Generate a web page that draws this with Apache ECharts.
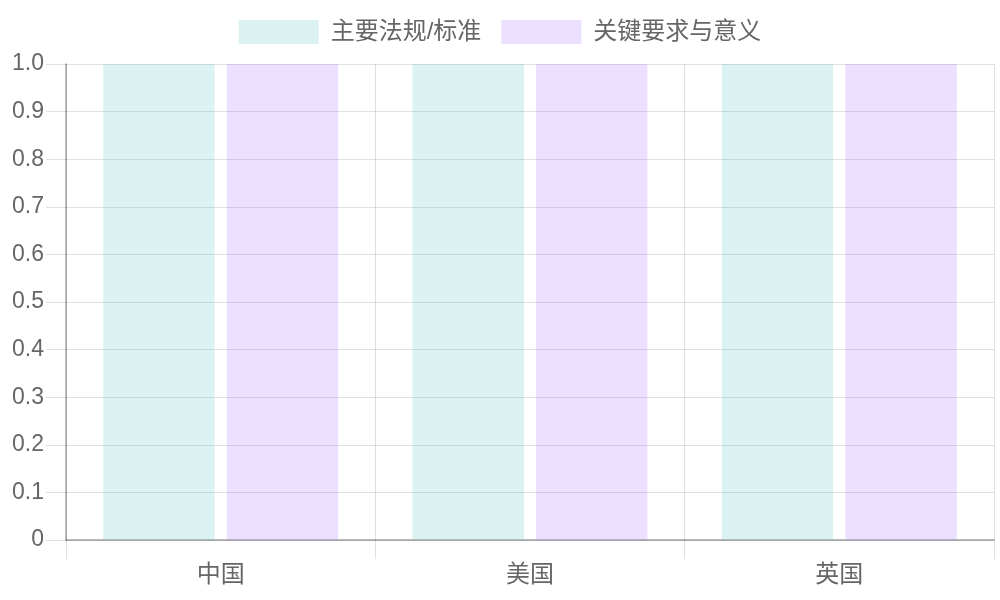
<!DOCTYPE html>
<html>
<head>
<meta charset="utf-8">
<script src="https://cdn.jsdelivr.net/npm/echarts@6/dist/echarts.min.js"></script>
<style>
html,body{margin:0;padding:0;background:#fff;}
#chart{width:1000px;height:600px;}
</style>
</head>
<body>
<div id="chart"></div>
<script>
var countries = ['中国', '美国', '英国'];
var seriesNames = ['主要法规/标准', '关键要求与意义'];
var lawValues = [1, 1, 1];
var meaningValues = [1, 1, 1];
var yTicks = ['0', '0.1', '0.2', '0.3', '0.4', '0.5', '0.6', '0.7', '0.8', '0.9', '1.0'];

var font = '"Liberation Sans", Arial, "Noto Sans CJK SC", sans-serif';
var gridColor = 'rgba(0,0,0,0.12)';
var axisColor = 'rgba(0,0,0,0.35)';

var myChart = echarts.init(document.getElementById('chart'));
var option = {
	animation: false,
	legend: {
		top: 15,
		left: 'center',
		itemWidth: 80,
		itemHeight: 24,
		itemGap: 20,
		icon: 'rect',
		textStyle: { fontSize: 24, color: '#666', fontFamily: font, padding: [0, 0, 0, 7] },
		data: seriesNames
	},
	grid: { left: 66, right: 6, top: 64, bottom: 60, containLabel: false },
	xAxis: {
		type: 'category',
		data: countries,
		boundaryGap: true,
		axisLine: { lineStyle: { color: axisColor, width: 1.5 } },
		axisTick: { show: true, length: 19, lineStyle: { color: gridColor } },
		axisLabel: { fontSize: 24, color: '#666', fontFamily: font, margin: 23 },
		splitLine: { show: true, lineStyle: { color: gridColor } }
	},
	yAxis: {
		type: 'value',
		min: 0,
		max: 1,
		interval: 0.1,
		axisLine: { show: true, lineStyle: { color: axisColor, width: 1.5 } },
		axisTick: { show: true, length: 20, lineStyle: { color: gridColor } },
		axisLabel: {
			fontSize: 23, color: '#666', fontFamily: font, margin: 22,
			formatter: function (v) { return yTicks[Math.round(v * 10)]; }
		},
		splitLine: { show: true, lineStyle: { color: gridColor } }
	},
	series: [
		{
			name: seriesNames[0],
			type: 'bar',
			data: lawValues,
			barWidth: '36%',
			barGap: '11%',
			itemStyle: { color: 'rgba(75,192,192,0.2)' }
		},
		{
			name: seriesNames[1],
			type: 'bar',
			data: meaningValues,
			barWidth: '36%',
			barGap: '11%',
			itemStyle: { color: 'rgba(153,102,255,0.2)' }
		}
	]
};
myChart.setOption(option);
</script>
</body>
</html>
